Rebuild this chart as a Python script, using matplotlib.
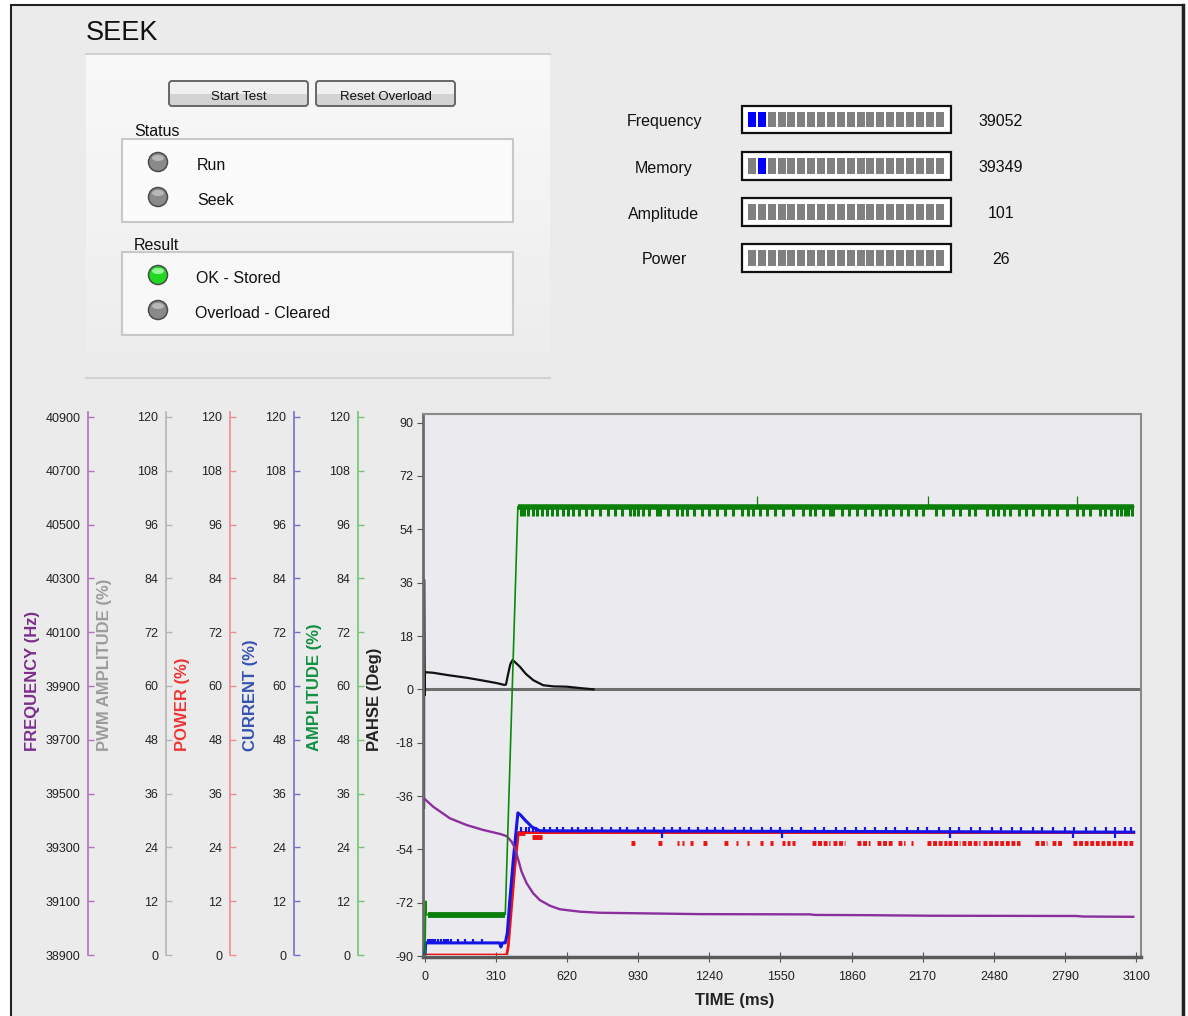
import matplotlib
matplotlib.use('Agg')
import matplotlib.pyplot as plt
from matplotlib.patches import Rectangle, Circle, Ellipse, FancyBboxPatch
from matplotlib.colors import LinearSegmentedColormap
import numpy as np

plt.rcParams['font.family'] = ['Liberation Sans', 'DejaVu Sans']
plt.rcParams['axes.unicode_minus'] = False

W, H = 1188, 1016

# ---------------- data ----------------
meter_names = ['Frequency', 'Memory', 'Amplitude', 'Power']
meter_values = ['39052', '39349', '101', '26']
meter_lit = [[0, 1], [1], [], []]
n_segments = 20

status_items = ['Run', 'Seek']
status_on = [False, False]
result_items = ['OK - Stored', 'Overload - Cleared']
result_on = [True, False]
buttons = ['Start Test', 'Reset Overload']

time_ticks = [0, 310, 620, 930, 1240, 1550, 1860, 2170, 2480, 2790, 3100]
phase_ticks = [-90, -72, -54, -36, -18, 0, 18, 36, 54, 72, 90]
pct_ticks = [0, 12, 24, 36, 48, 60, 72, 84, 96, 108, 120]
freq_ticks = [38900, 39100, 39300, 39500, 39700, 39900, 40100, 40300, 40500, 40700, 40900]

# phase (deg)
phase_t = [-4, -4, -2, 0, 35, 100, 183, 250, 314, 345, 353, 362, 372, 382, 395,
           414, 440, 472, 515, 560, 618, 680, 735]
phase_v = [-40, 37, -2, 5.8, 5.6, 4.8, 3.9, 3.0, 2.1, 1.5, 1.6, 5.0, 8.5, 9.9, 9.0,
           7.6, 5.2, 3.1, 1.4, 1.0, 0.9, 0.4, 0]

# frequency (Hz)
freq_t = [0, 36, 109, 182, 253, 327, 356, 378, 392, 407, 421, 443, 472, 501, 545,
          588, 676, 763, 1199, 1678, 1700, 1940, 2201, 2840, 2870, 3088]
freq_v = [39479, 39451, 39408, 39383, 39365, 39350, 39342, 39321, 39297, 39253,
          39210, 39167, 39129, 39104, 39083, 39070, 39061, 39057, 39052, 39051,
          39049, 39048, 39046, 39045, 39043, 39042]

# amplitude (%)
amp_t = [0, 3, 6, 14, 350, 405, 3090]
amp_v = [0, 12, 9, 9, 9, 100, 100]
amp_dip_t = [420, 432, 450, 470, 490, 509, 530, 552, 574, 600, 625, 647, 672, 700, 730,
             763, 800, 830, 860, 894, 910, 930, 952, 975, 1010, 1025, 1060, 1097, 1120,
             1141, 1175, 1206, 1240, 1272, 1310, 1344, 1380, 1410, 1431, 1460, 1489,
             1525, 1562, 1605, 1649, 1680, 1700, 1735, 1765, 1780, 1820, 1850, 1882,
             1920, 1950, 1983, 2010, 2040, 2075, 2107, 2140, 2170, 2230, 2260, 2300,
             2332, 2370, 2400, 2449, 2475, 2500, 2525, 2550, 2590, 2620, 2652, 2690,
             2720, 2754, 2800, 2841, 2870, 2900, 2942, 2965, 2990, 3015, 3035, 3050,
             3065, 3081]
amp_up_t = [1446, 2193, 2841]

# current (%)
cur_t = [0, 3, 325, 331, 337, 350, 359, 370, 385, 405, 417, 436, 450, 465, 501, 3090]
cur_v = [0, 2.7, 2.7, 1.8, 2.7, 2.7, 4.9, 12.3, 21.2, 31.7, 31.2, 30.1, 29.4, 28.6, 27.7, 27.4]
cur_pre_spike_t = [13, 20, 28, 36, 44, 55, 70, 82, 90, 102, 115, 145, 175, 210, 248]
cur_spike_t = [420, 440, 452, 470, 486, 520, 545, 575, 600, 640, 668, 700, 730, 770,
               810, 850, 880, 930, 960, 1000, 1040, 1075, 1110, 1150, 1190, 1230, 1265,
               1300, 1350, 1390, 1420, 1470, 1510, 1550, 1600, 1640, 1700, 1740, 1790,
               1830, 1880, 1920, 1960, 2010, 2050, 2100, 2150, 2190, 2240, 2290, 2330,
               2380, 2420, 2470, 2510, 2560, 2600, 2650, 2690, 2740, 2790, 2830, 2880,
               2920, 2970, 3010, 3050, 3080]
cur_drop_t = [1032, 1555, 2289, 2826, 3010]

# power (%)
pwr_t = [0, 356, 363, 392, 407, 3090]
pwr_v = [0, 0, 1.9, 19.7, 27.3, 27.3]
pwr_block_start = [407, 465]
pwr_block_end = [436, 509]
pwr_block_v = [27.3, 26.3]
pwr_dip_start = [899, 1016, 1100, 1122, 1156, 1213, 1303, 1354, 1404, 1462, 1503, 1556,
                 1578, 1600, 1686, 1780, 1882, 1969, 2063, 2118, 2187, 2281, 2340, 2434,
                 2659, 2732, 2826]
pwr_dip_end = [916, 1032, 1108, 1130, 1168, 1229, 1327, 1364, 1414, 1474, 1519, 1568,
               1590, 1612, 1765, 1831, 1940, 2041, 2092, 2126, 2274, 2332, 2419, 2594,
               2710, 2783, 3088]
pwr_dip_v = 25.0


def fbox(x0, y0, x1, y1):
    return [x0 / W, 1 - y1 / H, (x1 - x0) / W, (y1 - y0) / H]


fig = plt.figure(figsize=(W / 100, H / 100), dpi=100, facecolor='white')

# ---------------- UI layer (pixel coords) ----------------
ui = fig.add_axes([0, 0, 1, 1])
ui.axis('off')

ui.add_patch(Rectangle((11, 5), 1172, 1015, facecolor='#ebebeb', edgecolor='#222222', lw=1.5))
ui.plot([1183, 1183], [5, 1016], color='#222222', lw=2.5)

ui.text(86, 40, 'SEEK', fontsize=19.5, ha='left', va='baseline', color='#111111')

# panel with gradient
grad = np.linspace(0, 1, 100).reshape(-1, 1)
cm = LinearSegmentedColormap.from_list('panel', ['#f9f9f9', '#ececec'])
ui.imshow(grad, extent=(86, 550, 378, 54), cmap=cm, aspect='auto', zorder=1)
ui.plot([86, 550], [54, 54], color='#d2d2d2', lw=1.5, zorder=2)
ui.plot([86, 550], [378, 378], color='#d2d2d2', lw=1.5, zorder=2)

# buttons
for name, (bx0, bx1) in zip(buttons, [(169, 308), (316, 455)]):
    ui.add_patch(Rectangle((bx0 + 1, 82), bx1 - bx0 - 2, 12, facecolor='#f0f0f0', lw=0, zorder=3))
    ui.add_patch(Rectangle((bx0 + 1, 94), bx1 - bx0 - 2, 11, facecolor='#d3d3d3', lw=0, zorder=3))
    ui.add_patch(FancyBboxPatch((bx0, 81), bx1 - bx0, 25, boxstyle='round,pad=0,rounding_size=3',
                                facecolor='none', edgecolor='#666666', lw=1.4, zorder=4))
    ui.text((bx0 + bx1) / 2, 97, name, fontsize=9.5, ha='center', va='center', color='#111111', zorder=5)


def led(cx, cy, on):
    face = '#1fd81f' if on else '#8a8a8a'
    hi = '#b8ffb8' if on else '#c4c4c4'
    ui.add_patch(Circle((cx, cy), 9.5, facecolor=face, edgecolor='#4a4a4a', lw=1.1, zorder=5))
    ui.add_patch(Ellipse((cx, cy - 4), 12, 6, facecolor=hi, edgecolor='none', alpha=0.8, zorder=6))


ui.text(134, 132, 'Status', fontsize=11.5, ha='left', va='center', color='#111111', zorder=5)
ui.add_patch(Rectangle((122, 139), 391, 83, facecolor='#fbfbfb', edgecolor='#c8c8c8', lw=1.5, zorder=3))
for i, (name, on) in enumerate(zip(status_items, status_on)):
    cy = 162 + i * 35
    led(158, cy, on)
    ui.text(197, cy + 3.5, name, fontsize=11.5, ha='left', va='center', color='#111111', zorder=5)

ui.text(134, 245, 'Result', fontsize=11.5, ha='left', va='center', color='#111111', zorder=5)
ui.add_patch(Rectangle((122, 252), 391, 83, facecolor='#f8f8f8', edgecolor='#c8c8c8', lw=1.5, zorder=3))
for i, (name, on) in enumerate(zip(result_items, result_on)):
    cy = 275 + i * 35
    led(158, cy, on)
    ui.text(196 - i, cy + 3.5, name, fontsize=11.5, ha='left', va='center', color='#111111', zorder=5)

# meters
meter_y = [105.7, 152, 198, 244]
for name, val, lit, y0 in zip(meter_names, meter_values, meter_lit, meter_y):
    yc = y0 + 16
    ui.text(664, yc, name, fontsize=11.5, ha='center', va='center', color='#111111')
    ui.add_patch(Rectangle((742, y0), 209, 27.5, facecolor='white', edgecolor='#111111', lw=1.6, zorder=3))
    for s in range(n_segments):
        c = '#0000ff' if s in lit else '#808080'
        ui.add_patch(Rectangle((748 + s * 9.87, y0 + 6), 8, 15.5, facecolor=c, lw=0, zorder=4))
    ui.text(1001, yc, val, fontsize=11.5, ha='center', va='center', color='#111111')

ui.set_xlim(0, W)
ui.set_ylim(H, 0)

# ---------------- chart ----------------
XL = (-8.7, 3121.8)
PCT_LIM = (0, 121.1)
FREQ_LIM = (38900, 40918.6)

ax = fig.add_axes(fbox(423, 414, 1141, 957))
ax.set_facecolor('#ebebef')
ax.set_xlim(*XL)
ax.set_ylim(-90.3, 92.9)
ax.set_xticks(time_ticks)
ax.set_yticks(phase_ticks)
ax.tick_params(axis='y', direction='out', length=4, pad=3, labelsize=9, color='#555555', labelcolor='#222222')
ax.tick_params(axis='x', direction='inout', length=7, pad=6.5, labelsize=9, color='#555555', labelcolor='#222222')
for side, c, lw in [('top', '#8a8a8a', 1.5), ('right', '#8a8a8a', 1.5), ('left', '#6a6a6a', 2), ('bottom', '#5a5a5a', 2.5)]:
    ax.spines[side].set_color(c)
    ax.spines[side].set_linewidth(lw)
ax.axhline(0, color='#6e6e6e', lw=2.2, zorder=1)
ax.plot(phase_t, phase_v, color='#111111', lw=1.6, zorder=2)


def overlay(ylim):
    a = fig.add_axes(fbox(423, 412, 1141, 955))
    a.set_xlim(*XL)
    a.set_ylim(*ylim)
    a.axis('off')
    a.patch.set_visible(False)
    return a


ax_pc = overlay(PCT_LIM)
ax_pc.plot(pwr_t, pwr_v, color='#ee1111', lw=2.0)
ax_pc.hlines(pwr_block_v, pwr_block_start, pwr_block_end, color='#ee1111', lw=3.5)
ax_pc.hlines([pwr_dip_v] * len(pwr_dip_start), pwr_dip_start, pwr_dip_end, color='#ee1111',
             lw=3.5, linestyles=(0, (0.8, 0.35)))
ax_pc.plot(cur_t, cur_v, color='#1515e8', lw=2.2)
ax_pc.vlines(cur_pre_spike_t, 2.7, 3.6, color='#1515e8', lw=1.6)
ax_pc.vlines(cur_spike_t, 27.4, 28.6, color='#1515e8', lw=1.6)
ax_pc.vlines(cur_drop_t, 26.0, 27.4, color='#1515e8', lw=1.6)

ax_f = overlay(FREQ_LIM)
ax_f.plot(freq_t, freq_v, color='#8b2f9e', lw=1.7)

ax_a = overlay(PCT_LIM)
ax_a.plot(amp_t, amp_v, color='#0a8a0a', lw=1.2)
ax_a.hlines([9, 100], [14, 405], [350, 3090], color='#0a7f0a', lw=[4.2, 4.0])
ax_a.vlines(amp_dip_t, 97.9, 100, color='#0a7f0a', lw=2.2)
ax_a.vlines(amp_up_t, 100, 102.4, color='#0a7f0a', lw=0.9)

# left scale axes
scales = [
    ('FREQUENCY (Hz)', 88, 33, '#b86cc4', '#7b2d8c', FREQ_LIM, freq_ticks),
    ('PWM AMPLITUDE (%)', 166, 105, '#b4b4b4', '#9c9c9c', PCT_LIM, pct_ticks),
    ('POWER (%)', 230, 183, '#f08c8c', '#ee3535', PCT_LIM, pct_ticks),
    ('CURRENT (%)', 294, 250, '#7070c8', '#3553b0', PCT_LIM, pct_ticks),
    ('AMPLITUDE (%)', 358, 315, '#74c474', '#129042', PCT_LIM, pct_ticks),
]
for label, sx, lx, sc, lc, ylim, ticks in scales:
    a = fig.add_axes(fbox(sx, 412, sx + 1, 955))
    a.patch.set_visible(False)
    a.set_ylim(*ylim)
    a.set_yticks(ticks)
    a.set_xticks([])
    for side in ['top', 'right', 'bottom']:
        a.spines[side].set_visible(False)
    a.spines['left'].set_color(sc)
    a.spines['left'].set_linewidth(1.2)
    a.tick_params(axis='y', direction='in', length=4, width=1, color=sc, pad=5.5,
                  labelsize=9, labelcolor='#222222')
    fig.text(lx / W, 1 - 751 / H, label, rotation=90, ha='center', va='bottom',
             fontsize=12, fontweight='bold', color=lc)

fig.text(375 / W, 1 - 751 / H, 'PAHSE (Deg)', rotation=90, ha='center', va='bottom',
         fontsize=12, fontweight='bold', color='#222222')
fig.text(735 / W, 1 - 1000 / H, 'TIME (ms)', ha='center', va='center',
         fontsize=12, fontweight='bold', color='#222222')

fig.savefig('out.png', dpi=100, facecolor=fig.get_facecolor())
